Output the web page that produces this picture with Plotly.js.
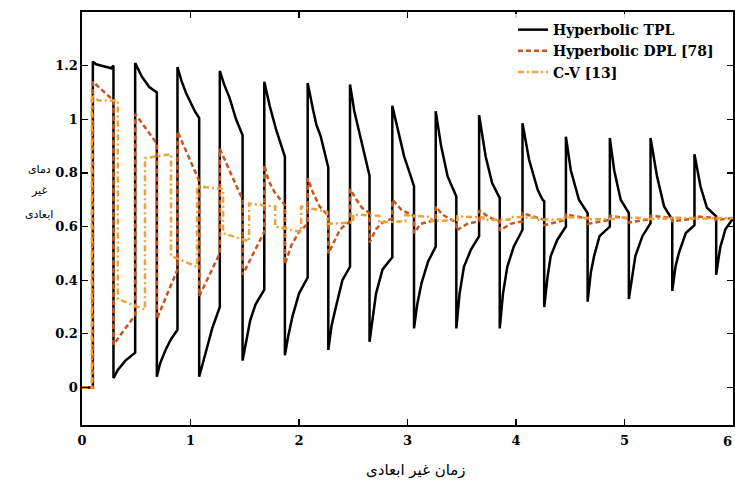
<!DOCTYPE html>
<html>
<head>
<meta charset="utf-8">
<script src="https://cdn.plot.ly/plotly-3.0.1.min.js"></script>
<style>html,body{margin:0;padding:0;background:#fff}#chart{width:735px;height:483px}</style>
</head>
<body>
<div id="chart"></div>
<script>
// Hyperbolic TPL (time, value)
const tplT = [0,0.1,0.1,0.13,0.27,0.29,
  0.29,0.33,0.4,0.49, 0.49,0.55,0.62,0.69,
  0.69,0.72,0.77,0.82,0.88, 0.88,0.92,0.96,1.04,1.08,
  1.08,1.12,1.16,1.2,1.27, 1.27,1.31,1.36,1.42,1.48,
  1.48,1.51,1.55,1.6,1.68, 1.68,1.73,1.79,1.85,1.87,
  1.87,1.9,1.94,2.0,2.08, 2.08,2.13,2.16,2.2,2.27,
  2.27,2.3,2.34,2.4,2.47, 2.47,2.51,2.56,2.61,2.65,
  2.65,2.68,2.71,2.77,2.86, 2.86,2.92,2.97,3.02,3.06,
  3.06,3.09,3.13,3.19,3.26, 3.26,3.31,3.37,3.45,
  3.45,3.48,3.52,3.585,3.66, 3.66,3.72,3.78,3.85,
  3.85,3.88,3.92,3.98,4.06, 4.06,4.12,4.2,4.245,4.26,
  4.26,4.29,4.32,4.38,4.46, 4.46,4.505,4.58,4.66,
  4.66,4.69,4.72,4.77,4.865, 4.865,4.905,4.965,5.04,
  5.04,5.07,5.1,5.165,5.24, 5.24,5.3,5.365,5.44,
  5.44,5.47,5.5,5.565,5.645, 5.645,5.7,5.76,5.845,
  5.845,5.87,5.885,5.93,5.98,6.0];
const tplV = [0,0,1.215,1.205,1.19,1.2,
  0.035,0.065,0.1,0.13, 1.21,1.16,1.12,1.1,
  0.04,0.09,0.14,0.18,0.215, 1.195,1.14,1.097,1.03,1.004,
  0.04,0.1,0.15,0.22,0.3, 1.18,1.13,1.08,1.0,0.94,
  0.1,0.17,0.25,0.31,0.365, 1.14,1.05,0.96,0.886,0.86,
  0.12,0.19,0.265,0.35,0.41, 1.135,1.035,0.98,0.936,0.82,
  0.14,0.23,0.3,0.4,0.45, 1.13,1.03,0.94,0.85,0.79,
  0.17,0.27,0.35,0.44,0.485, 1.05,0.94,0.86,0.8,0.75,
  0.22,0.31,0.39,0.47,0.525, 1.03,0.9,0.787,0.712,
  0.22,0.35,0.45,0.514,0.564, 1.015,0.862,0.762,0.706,
  0.22,0.35,0.45,0.526,0.588, 0.985,0.85,0.737,0.7,0.694,
  0.3,0.41,0.49,0.55,0.6, 0.935,0.81,0.7,0.65,
  0.32,0.43,0.49,0.564,0.6, 0.93,0.81,0.7,0.65,
  0.33,0.42,0.49,0.564,0.613, 0.93,0.787,0.675,0.626,
  0.36,0.45,0.5,0.576,0.605, 0.87,0.75,0.67,0.638,
  0.42,0.49,0.526,0.59,0.622,0.63];

// Hyperbolic DPL [78]
const dplT = [0,0.1,0.1,0.29, 0.29,0.49, 0.49,0.69, 0.69,0.88, 0.88,1.08,
  1.08,1.27, 1.27,1.48, 1.48,1.68, 1.68,1.72,1.78,1.87,
  1.87,1.93,2.0,2.08, 2.08,2.13,2.19,2.27, 2.27,2.33,2.38,2.47,
  2.47,2.53,2.58,2.65, 2.65,2.71,2.77,2.86, 2.86,2.95,3.06,
  3.06,3.12,3.26, 3.26,3.32,3.45, 3.45,3.55,3.66, 3.66,3.75,3.85,
  3.85,3.95,4.06, 4.06,4.26, 4.26,4.46, 4.46,4.66, 4.66,4.87,
  4.87,5.04, 5.04,5.24, 5.24,5.44, 5.44,5.65, 5.65,5.84, 5.84,6.0];
const dplV = [0,0,1.14,1.07, 0.16,0.27, 1.02,0.91, 0.255,0.44, 0.955,0.77,
  0.34,0.5, 0.89,0.7, 0.42,0.58, 0.83,0.77,0.725,0.68,
  0.46,0.53,0.58,0.61, 0.78,0.725,0.675,0.64, 0.5,0.55,0.59,0.62,
  0.74,0.7,0.67,0.65, 0.54,0.59,0.615,0.63, 0.7,0.66,0.64,
  0.575,0.61,0.625, 0.675,0.645,0.615, 0.585,0.61,0.62, 0.66,0.635,0.62,
  0.585,0.61,0.62, 0.65,0.625, 0.605,0.625, 0.645,0.63, 0.61,0.625,
  0.64,0.63, 0.615,0.628, 0.64,0.632, 0.62,0.63, 0.638,0.632, 0.624,0.632];

// C-V [13]
const cvT = [0,0.09,0.09,0.15,0.33, 0.33,0.58, 0.58,0.82, 0.82,1.06, 1.06,1.3,
  1.3,1.54, 1.54,1.78, 1.78,2.02, 2.02,2.26, 2.26,2.5, 2.5,2.74, 2.74,2.98,
  2.98,3.22, 3.22,3.46, 3.46,3.7, 3.7,3.94, 3.94,4.18, 4.18,4.42, 4.42,4.66,
  4.66,4.9, 4.9,5.14, 5.14,5.38, 5.38,5.62, 5.62,5.86, 5.86,6.0];
const cvV = [0,0,1.09,1.07,1.07, 0.33,0.29, 0.855,0.87, 0.49,0.45, 0.75,0.74,
  0.575,0.545, 0.685,0.675, 0.6,0.58, 0.675,0.655, 0.61,0.615, 0.645,0.64, 0.615,0.62,
  0.642,0.636, 0.62,0.624, 0.638,0.634, 0.624,0.626, 0.636,0.633, 0.625,0.627, 0.635,0.632,
  0.627,0.628, 0.634,0.632, 0.628,0.629, 0.633,0.632, 0.629,0.63, 0.632,0.632];

const seriesNames = ['Hyperbolic TPL', 'Hyperbolic DPL [78]', 'C-V [13]'];
const xTicks = [0,1,2,3,4,5,6];
const yTicks = [0,0.2,0.4,0.6,0.8,1,1.2];
const yTitleLines = ['دمای', 'غیر', 'ابعادی'];
const xTitle = 'زمان غیر ابعادی';

const serif = 'DejaVu Serif, serif';
const traces = [
  {x: tplT, y: tplV, name: seriesNames[0], mode: 'lines',
   line: {color: '#000000', width: 2.5}},
  {x: dplT, y: dplV, name: seriesNames[1], mode: 'lines',
   line: {color: '#c4561e', width: 2.5, dash: '5px,3px'}},
  {x: cvT, y: cvV, name: seriesNames[2], mode: 'lines',
   line: {color: '#eea23a', width: 2.5, dash: '6px,3px,2px,3px'}}
];

const ann = yTitleLines.map((s, i) => ({
  text: s, xref: 'paper', yref: 'paper', showarrow: false,
  x: -0.066, y: 1 - ([169, 190, 214][i] - 12) / 413,
  xanchor: 'center', yanchor: 'middle',
  font: {family: 'DejaVu Sans', size: 11, color: '#000'}
}));
ann.push({text: xTitle, xref: 'paper', yref: 'paper', showarrow: false,
  x: (416 - 82) / 651, y: 1 - (470 - 12) / 413, xanchor: 'center', yanchor: 'middle',
  font: {family: 'DejaVu Sans', size: 15, color: '#000'}});
// last x tick label, kept inside the right edge
ann.push({text: String(xTicks[xTicks.length - 1]), xref: 'x', yref: 'paper', showarrow: false,
  x: xTicks[xTicks.length - 1], y: 1 - (441 - 12) / 413, xanchor: 'right', yanchor: 'middle',
  xshift: 1, font: {family: serif, size: 13, color: '#000', weight: 'bold'}});

const axisCommon = {
  showgrid: false, zeroline: false, showline: true, linecolor: '#000', linewidth: 1.6,
  mirror: 'ticks', ticks: 'inside', ticklen: 6, tickwidth: 1.3, tickcolor: '#000',
  tickfont: {family: serif, size: 13, color: '#000', weight: 'bold'}
};

const layout = {
  width: 735, height: 483,
  margin: {l: 82, r: 2, t: 12, b: 58},
  paper_bgcolor: '#fff', plot_bgcolor: '#fff',
  showlegend: true,
  legend: {x: 0.662, y: 0.995, xanchor: 'left', yanchor: 'top', bgcolor: 'rgba(255,255,255,0.85)',
    font: {family: serif, size: 14, color: '#000', weight: 'bold'}, tracegroupgap: 0,
    itemwidth: 30},
  xaxis: Object.assign({}, axisCommon, {range: [0, 6], tickvals: xTicks.slice(0, -1),
    ticktext: xTicks.slice(0, -1).map(String), ticklabelstandoff: 3}),
  yaxis: Object.assign({}, axisCommon, {range: [-0.14, 1.4], tickvals: yTicks, ticktext: yTicks.map(String)}),
  annotations: ann
};

Plotly.newPlot('chart', traces, layout, {displayModeBar: false, staticPlot: true});
</script>
</body>
</html>
